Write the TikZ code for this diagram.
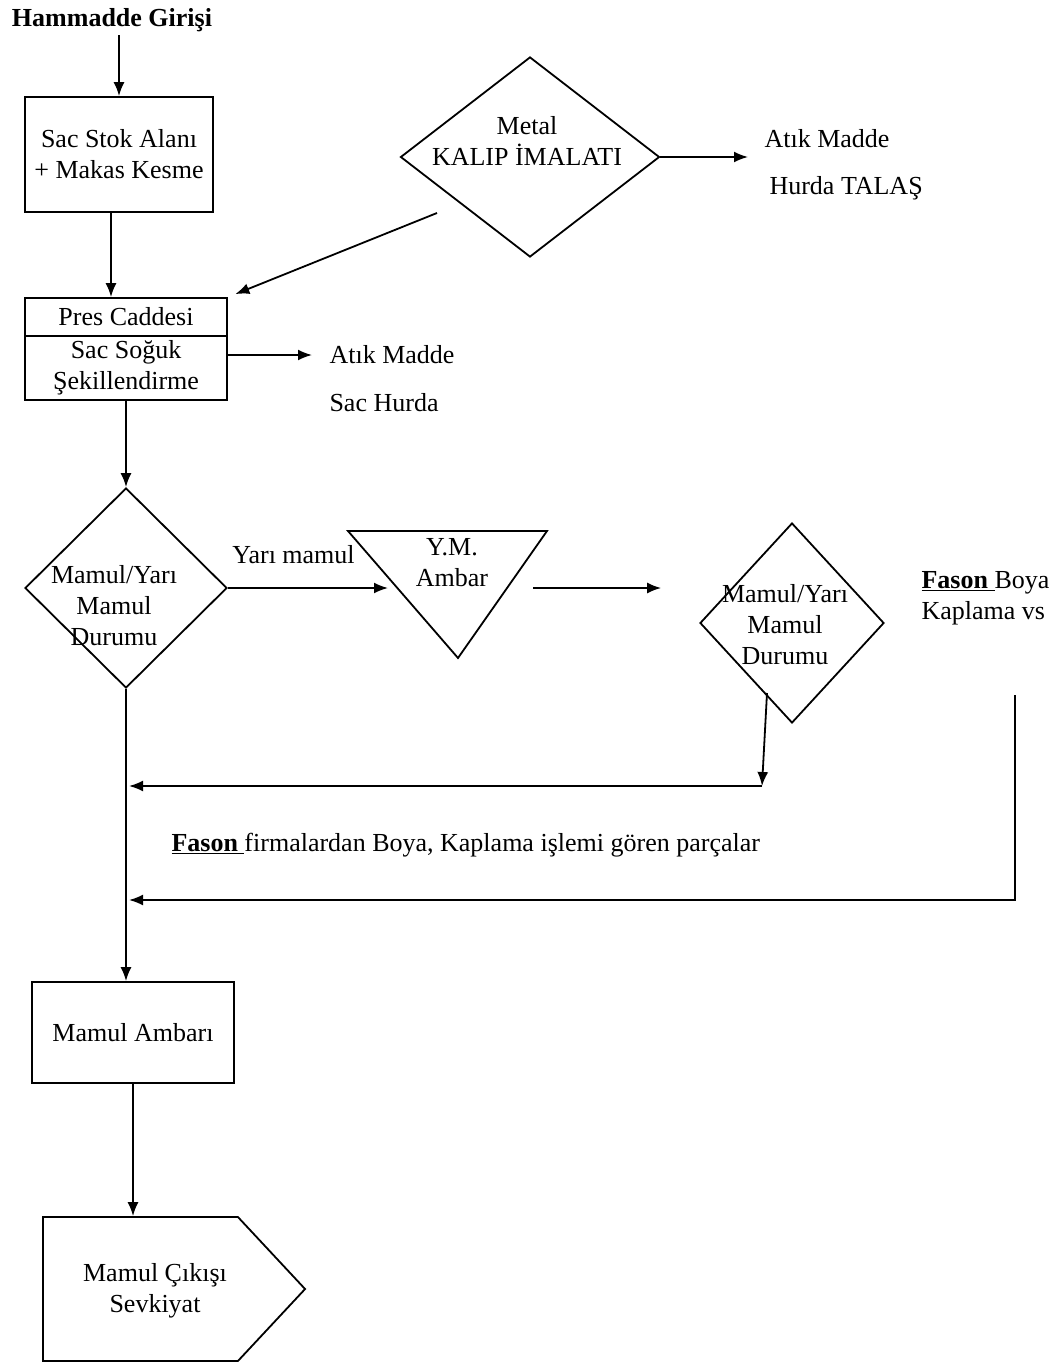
\documentclass[tikz,border=0pt]{standalone}
\usepackage{fontspec}
\setmainfont{Liberation Serif}
\usetikzlibrary{arrows.meta,calc,shapes.geometric,shapes.symbols}
\tikzset{
  every node/.style={font=\fontsize{26}{31}\selectfont},
  box/.style={draw, line width=1.8pt, inner sep=0pt, align=center},
  decision/.style={draw, diamond, line width=1.8pt, inner sep=0pt},
  arr/.style={line width=1.8pt, -{Latex[length=14pt,width=11pt]}},
  plain/.style={line width=1.8pt},
}
\begin{document}
\begin{tikzpicture}[x=1pt, y=-1pt]
			%%%%% START %%%%%
			\useasboundingbox (0,0) rectangle (1062,1365);
			
			\node[font=\fontsize{26}{31}\selectfont\bfseries] (raw) at (112,20) {Hammadde Girişi};
			\node[box, minimum width=188, minimum height=115] (stok) at (119,154.5) {Sac Stok Alanı\\+ Makas Kesme};
			\draw[arr] (raw.south -| stok.north) -- (stok.north);
			
			\node[box, minimum width=202, minimum height=38] (presa) at (126,317) {Pres Caddesi};
			\node[box, minimum width=202, minimum height=64, anchor=north] (presb) at ($(presa.south)+(0,-1.8)$) {Sac Soğuk\\Şekillendirme};
			\draw[arr] ($(stok.south)+(-8,0)$) -- ($(stok.south |- presa.north)+(-8,0)$);
			
			\node[anchor=west] (atik1) at (326,355) {Atık Madde};
			\node[anchor=west] (hurda1) at (326,403) {Sac Hurda};
			\draw[arr, shorten >=14pt] (atik1.west -| presb.east) -- (atik1.west);
			
			\node[decision, minimum width=259, minimum height=200, label={[align=center, xshift=-3, yshift=16]center:{Metal\\KALIP İMALATI}}] (kalip) at (530,157) {};
			\node[anchor=west] (atik2) at (761,139) {Atık Madde};
			\node[anchor=west] (hurda2) at (766,188) {Hurda TALAŞ};
			\draw[arr, shorten >=13pt] (kalip.east) -- (kalip.east -| atik2.west);
			
			\coordinate (kalipout) at ($(kalip.center)+(-93,56)$);
			\draw[arr, shorten >=8pt] (kalipout) -- (presa.north east);
			
			\node[decision, minimum width=202, minimum height=200, label={[align=center, xshift=-12, yshift=-18]center:{Mamul/Yarı\\Mamul\\Durumu}}] (m1) at (126,588) {};
			\draw[arr] (presb.south) -- (m1.north);
			
			\node[align=center] (ymamb) at (452,563) {Y.M.\\Ambar};
			\draw[plain] ($(ymamb)+(-104,-32)$) -- ($(ymamb)+(95,-32)$) -- ($(ymamb)+(6,95)$) -- cycle;
			\coordinate (ymin) at ($(ymamb)+(-64,25)$);
			\draw[arr] (m1.east) -- node[pos=0.41, above=20pt] {Yarı mamul} (ymin);
			
			\node[decision, minimum width=184, minimum height=200, label={[align=center, xshift=-7, yshift=-2]center:{Mamul/Yarı\\Mamul\\Durumu}}] (m2) at (792,623) {};
			\coordinate (ymout) at ($(ymamb)+(81,25)$);
			\draw[arr, shorten >=38pt] (ymout) -- (ymout -| m2.west);
			
			\node[anchor=west, align=left] (fason) at (918,598) {\underline{\textbf{Fason}\ }Boya\\Kaplama vs};
			
			% returns to main line
			\coordinate (m2out) at ($(m2.center)+(-25,70)$);
			\coordinate (ret1) at (762,786);
			\draw[arr] (m2out) -- (ret1);
			\draw[arr, shorten >=3pt] (ret1) -- (ret1 -| m1.south);
			
			\node[anchor=west] (fasonnote) at (168,845) {\underline{\textbf{Fason}\ }firmalardan Boya, Kaplama işlemi gören parçalar};
			
			\coordinate (fasonout) at (1015,695);
			\coordinate (ret2) at (1015,900);
			\draw[arr, shorten >=3pt] (fasonout) -- (ret2) -- (ret2 -| m1.south);
			
			\node[box, minimum width=202, minimum height=101] (ambar) at (133,1032.5) {Mamul Ambarı};
			\draw[arr] (m1.south) -- (m1.south |- ambar.north);
			
			\node[draw, signal, signal to=east, signal pointer angle=94, minimum width=262, minimum height=144, inner sep=0pt, line width=1.8pt, label={[align=center, xshift=14.5, yshift=-2]center:{Mamul Çıkışı\\Sevkiyat}}] (cikis) at (140.5,1289) {};
			\draw[arr] (ambar.south) -- (ambar.south |- cikis.north);
			
			%%%%% END %%%%%
\end{tikzpicture}
\end{document}
